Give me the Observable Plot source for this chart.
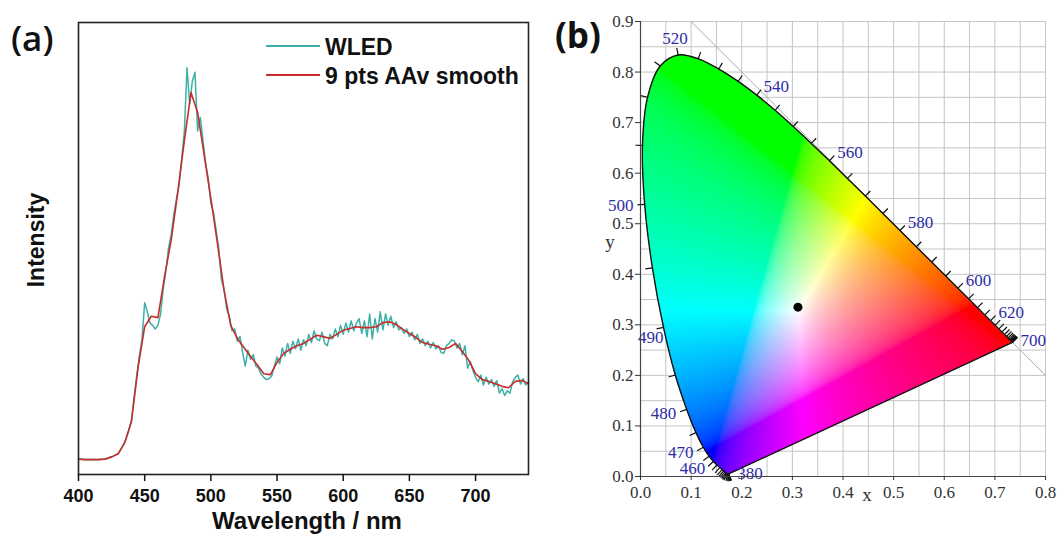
<!DOCTYPE html>
<html>
<head>
<meta charset="utf-8">
<script src="https://cdn.jsdelivr.net/npm/d3@7"></script>
<script src="https://cdn.jsdelivr.net/npm/@observablehq/plot@0.6"></script>
<style>
html,body{margin:0;padding:0;background:#fff;}
#wrap{position:relative;width:1057px;height:536px;overflow:hidden;background:#fff;}
#pa,#pb{position:absolute;top:0;}
#pa{left:0;} #pb{left:560px;}
.ov{position:absolute;white-space:nowrap;line-height:1;}
.sans{font-family:"Liberation Sans",Arial,sans-serif;font-weight:bold;color:#111;font-size:23px;}
.serif{font-family:"Liberation Serif","Times New Roman",serif;color:#333;font-size:19px;}
.panel{font-family:"Open Sans",sans-serif;font-size:35px;color:#111;}
#pa g[aria-label="x-axis tick label"] text{font-weight:bold;}
</style>
</head>
<body>
<div id="wrap">
  <div id="pa"></div>
  <div id="pb"></div>
</div>
<script>
// ---------- Panel (a): emission spectrum ----------
const smoothStart = 400, smoothStep = 5;
const smoothValues = [0.034,0.033,0.033,0.033,0.034,0.039,0.046,0.071,0.117,0.237,0.327,0.350,0.347,0.438,0.518,0.624,0.739,0.845,0.801,0.706,0.611,0.511,0.407,0.330,0.301,0.281,0.261,0.243,0.223,0.221,0.248,0.268,0.277,0.285,0.290,0.299,0.308,0.305,0.301,0.310,0.319,0.323,0.327,0.325,0.325,0.327,0.336,0.338,0.332,0.321,0.312,0.303,0.292,0.288,0.285,0.277,0.281,0.290,0.272,0.252,0.223,0.210,0.206,0.201,0.195,0.192,0.206,0.208,0.201];
const rawStart = 400, rawStep = 2;
const rawValues = [
0.034,0.034,0.033,0.033,0.033,0.033,0.033,0.033,0.033,0.034,0.034,0.036,0.038,0.040,0.043,0.046,0.055,0.066,0.080,0.097,0.120,
0.170,0.218,0.262,0.300,0.380,0.360,0.335,0.330,0.322,0.330,0.355,0.410,0.450,0.500,0.530,0.575,0.610,0.640,0.700,0.760,0.900,0.820,0.870,0.890,0.760,0.790,0.740,0.690,0.655,0.600,
0.580,0.540,0.500,0.430,0.410,0.365,0.350,0.318,0.322,0.295,0.305,0.270,0.240,0.275,0.255,0.265,0.240,0.235,0.222,0.215,0.210,0.212,0.218,0.240,0.260,0.245,0.280,0.262,0.290,0.268,
0.295,0.278,0.300,0.275,0.298,0.285,0.310,0.292,0.318,0.300,0.296,0.315,0.290,0.285,0.310,0.300,0.322,0.305,0.330,0.310,0.335,0.315,0.340,0.318,0.335,0.345,0.312,0.340,0.305,0.355,
0.300,0.345,0.315,0.360,0.320,0.355,0.330,0.350,0.325,0.338,0.320,0.325,0.312,0.322,0.305,0.315,0.298,0.310,0.290,0.300,0.285,0.295,0.280,0.292,0.278,0.285,0.270,0.268,0.285,0.290,
0.298,0.295,0.280,0.290,0.265,0.285,0.235,0.250,0.230,0.215,0.205,0.220,0.198,0.215,0.200,0.210,0.195,0.208,0.180,0.190,0.175,0.185,0.180,0.205,0.215,0.220,0.200,0.212,0.198,0.205];
const xTicksA = [400,450,500,550,600,650,700];
const seriesNames = ["WLED","9 pts AAv smooth"];
const seriesColors = ["#3cb1a8","#c62d2b"];

const rawData = rawValues.map((v,i)=>({w: rawStart + i*rawStep, v}));
const smoothData = smoothValues.map((v,i)=>({w: smoothStart + i*smoothStep, v}));

const plotA = Plot.plot({
  width: 545, height: 536,
  marginLeft: 78, marginRight: 17, marginTop: 22, marginBottom: 62,
  x: {domain: [400, 740]},
  y: {domain: [0, 1], axis: null},
  style: {fontFamily: '"Liberation Sans", Arial, sans-serif', fontSize: "18px", color: "#111", background: "transparent"},
  marks: [
    Plot.line(rawData, {x: "w", y: "v", stroke: seriesColors[0], strokeWidth: 1.5}),
    Plot.line(smoothData, {x: "w", y: "v", stroke: seriesColors[1], strokeWidth: 1.6}),
    Plot.frame({stroke: "#222", strokeWidth: 1.6}),
    Plot.axisX({ticks: xTicksA, tickSize: 7, tickPadding: 8, label: null, fontSize: 18, fontWeight: "bold", strokeWidth: 1.5, color: "#111"})
  ]
});
document.getElementById("pa").appendChild(plotA);

// ---------- Panel (b): CIE 1931 chromaticity diagram ----------
const cieWl = [380,385,390,395,400,405,410,415,420,425,430,435,440,445,450,455,460,465,470,475,480,485,490,495,500,505,510,515,520,525,530,535,540,545,550,555,560,565,570,575,580,585,590,595,600,605,610,615,620,625,630,635,640,645,650,655,660,665,670,675,680,685,690,695,700];
const cieX = [0.1741,0.1740,0.1738,0.1736,0.1733,0.1730,0.1726,0.1721,0.1714,0.1703,0.1689,0.1669,0.1644,0.1611,0.1566,0.1510,0.1440,0.1355,0.1241,0.1096,0.0913,0.0687,0.0454,0.0235,0.0082,0.0039,0.0139,0.0389,0.0743,0.1142,0.1547,0.1929,0.2296,0.2658,0.3016,0.3373,0.3731,0.4087,0.4441,0.4788,0.5125,0.5448,0.5752,0.6029,0.6270,0.6482,0.6658,0.6801,0.6915,0.7006,0.7079,0.7140,0.7190,0.7230,0.7260,0.7283,0.7300,0.7311,0.7320,0.7327,0.7334,0.7340,0.7344,0.7346,0.7347];
const cieY = [0.0050,0.0050,0.0049,0.0049,0.0048,0.0048,0.0048,0.0048,0.0051,0.0058,0.0069,0.0086,0.0109,0.0138,0.0177,0.0227,0.0297,0.0399,0.0578,0.0868,0.1327,0.2007,0.2950,0.4127,0.5384,0.6548,0.7502,0.8120,0.8338,0.8262,0.8059,0.7816,0.7543,0.7243,0.6923,0.6589,0.6245,0.5896,0.5547,0.5202,0.4866,0.4544,0.4242,0.3965,0.3725,0.3514,0.3340,0.3197,0.3083,0.2993,0.2920,0.2859,0.2809,0.2770,0.2740,0.2717,0.2700,0.2689,0.2680,0.2673,0.2666,0.2660,0.2656,0.2654,0.2653];
const labelWl = [380,460,470,480,490,500,520,540,560,580,600,620,700];
const sampleXY = [0.311, 0.335];
const diagX = [0.1, 0.8];
const diagY = [0.9, 0.2];
const xTicksB = [0,0.1,0.2,0.3,0.4,0.5,0.6,0.7,0.8];
const yTicksB = [0,0.1,0.2,0.3,0.4,0.5,0.6,0.7,0.8,0.9];
const gridStep = 0.05;

const locus = cieWl.map((w,i)=>({w, x: cieX[i], y: cieY[i]}));
const n = locus.length;
const normals = locus.map((p,i) => {
  if (i === 0) {
    const dx = locus[n-1].x - p.x, dy = locus[n-1].y - p.y, L = Math.hypot(dx, dy);
    return [dy/L, -dx/L];
  }
  const a = locus[Math.max(0,i-1)], b = locus[Math.min(n-1,i+1)];
  const dx = b.x - a.x, dy = b.y - a.y, L = Math.hypot(dx, dy) || 1;
  return [-dy/L, dx/L];
});
const tickLen = 0.014;
const tickData = locus.map((p,i)=>({x1: p.x, y1: p.y, x2: p.x + normals[i][0]*tickLen, y2: p.y + normals[i][1]*tickLen}));
const labelData = labelWl.map(w => {
  const i = cieWl.indexOf(w), p = locus[i], [nx, ny] = normals[i];
  if (i === 0) return {label: String(w), x: p.x + 0.017, y: p.y + 0.001, anchor: "start"};
  if (i === n - 1) return {label: String(w), x: p.x + 0.016, y: p.y + 0.004, anchor: "start"};
  let anchor = nx > 0.35 ? "start" : nx < -0.35 ? "end" : "middle";
  const off = anchor === "middle" ? 0.034 : 0.022;
  let x = p.x + nx*off, y = p.y + ny*off;
  // keep labels on the left flank clear of the y-axis tick labels
  if (anchor === "end" && x > 0 && x < 0.05) { x = p.x; y = p.y - 0.021; }
  return {label: String(w), x, y, anchor};
});
const spectral = locus;
const purple = [locus[n-1], locus[0]];
const gridVals = d3.range(0, 0.9 + 1e-9, gridStep);
const diagData = diagX.map((x,i)=>({x, y: diagY[i]}));

// region test along the same smooth boundary that is stroked
const S = 10000;
const boundaryPath = new Path2D(d3.line().x(d => d.x*S).y(d => d.y*S).curve(d3.curveCatmullRom)(locus) + "Z");
const ctx = document.createElement("canvas").getContext("2d");
function inside(x, y) { return ctx.isPointInPath(boundaryPath, x*S, y*S); }
function xyColor(x, y) {
  if (!inside(x, y)) return "#ffffff";
  const X = x / y, Z = (1 - x - y) / y;
  let r = 3.2406*X - 1.5372 - 0.4986*Z;
  let g = -0.9689*X + 1.8758 + 0.0415*Z;
  let b = 0.0557*X - 0.2040 + 1.0570*Z;
  r = Math.max(0, r); g = Math.max(0, g); b = Math.max(0, b);
  const m = Math.max(r, g, b) || 1;
  const gam = v => { v /= m; return Math.round(255*(v <= 0.0031308 ? 12.92*v : 1.055*Math.pow(v, 1/2.4) - 0.055)); };
  return `rgb(${gam(r)},${gam(g)},${gam(b)})`;
}

const serif = '"Liberation Serif", "Times New Roman", serif';
const blue = "#2d2da6";
const plotB = Plot.plot({
  width: 497, height: 536,
  marginLeft: 80, marginRight: 12, marginTop: 21, marginBottom: 60,
  x: {domain: [0, 0.8]},
  y: {domain: [0, 0.9]},
  color: {type: "identity"},
  style: {fontFamily: serif, fontSize: "17px", color: "#333", background: "transparent"},
  marks: [
    Plot.gridX({ticks: gridVals.filter(v => v <= 0.8 + 1e-9), stroke: "#c4c4c4", strokeOpacity: 1, strokeWidth: 1}),
    Plot.gridY({ticks: gridVals, stroke: "#c4c4c4", strokeOpacity: 1, strokeWidth: 1}),
    Plot.line(diagData, {x: "x", y: "y", stroke: "#aaaaaa", strokeWidth: 1}),
    Plot.raster({x1: 0, y1: 0, x2: 0.8, y2: 0.9, pixelSize: 1,
      fill: (x, y) => xyColor(x, y),
      fillOpacity: (x, y) => inside(x, y) ? 1 : 0}),
    Plot.line(spectral, {x: "x", y: "y", stroke: "#111", strokeWidth: 1.4, curve: "catmull-rom"}),
    Plot.line(purple, {x: "x", y: "y", stroke: "#111", strokeWidth: 1.4}),
    Plot.link(tickData, {x1: "x1", y1: "y1", x2: "x2", y2: "y2", stroke: "#111", strokeWidth: 1.2}),
    Plot.text(labelData.filter(d => d.anchor === "start"), {x: "x", y: "y", text: "label", textAnchor: "start", lineAnchor: "middle", fill: blue, fontSize: 17}),
    Plot.text(labelData.filter(d => d.anchor === "end"), {x: "x", y: "y", text: "label", textAnchor: "end", lineAnchor: "middle", fill: blue, fontSize: 17}),
    Plot.text(labelData.filter(d => d.anchor === "middle"), {x: "x", y: "y", text: "label", textAnchor: "middle", lineAnchor: "middle", fill: blue, fontSize: 17}),
    Plot.dot([sampleXY], {x: d => d[0], y: d => d[1], r: 4.5, fill: "#000", stroke: "none"}),
    Plot.ruleX([0], {stroke: "#444", strokeWidth: 1.2}),
    Plot.ruleY([0], {stroke: "#444", strokeWidth: 1.2}),
    Plot.axisX({ticks: xTicksB, tickFormat: d3.format(".1f"), tickSize: 4, tickPadding: 5, label: null, color: "#333", fontSize: 17}),
    Plot.axisY({ticks: yTicksB, tickFormat: d3.format(".1f"), tickSize: 5, tickPadding: 2, label: null, color: "#333", fontSize: 17})
  ]
});
document.getElementById("pb").appendChild(plotB);

// ---------- Text overlays (titles, axis labels, legend) ----------
const wrap = document.getElementById("wrap");
function addText(text, cls, css) {
  const d = document.createElement("div");
  d.className = "ov " + cls;
  d.textContent = text;
  Object.assign(d.style, css);
  wrap.appendChild(d);
  return d;
}
addText("(a)", "panel", {left: "11px", top: "20px", fontWeight: "600"});
addText("(b)", "panel", {left: "555px", top: "17px", fontWeight: "700"});
addText("Wavelength / nm", "sans", {left: "307px", top: "509px", transform: "translateX(-50%)", fontSize: "24px"});
addText("Intensity", "sans", {left: "36px", top: "240px", transform: "translate(-50%,-50%) rotate(-90deg)"});
addText("x", "serif", {left: "867px", top: "485px", transform: "translateX(-50%)"});
addText("y", "serif", {left: "610px", top: "232px", transform: "translateX(-50%)"});

// legend
const legendTops = [36, 65];
seriesNames.forEach((name, i) => {
  const row = document.createElement("div");
  row.className = "ov sans";
  Object.assign(row.style, {left: "266px", top: legendTops[i] + "px", display: "flex", alignItems: "center"});
  const svg = d3.create("svg").attr("width", 54).attr("height", 23);
  svg.append("line").attr("x1", 0).attr("x2", 54).attr("y1", 10).attr("y2", 10)
     .attr("stroke", seriesColors[i]).attr("stroke-width", 2);
  row.appendChild(svg.node());
  const sp = document.createElement("span");
  sp.textContent = name;
  sp.style.marginLeft = "5px";
  row.appendChild(sp);
  wrap.appendChild(row);
});
</script>
</body>
</html>
